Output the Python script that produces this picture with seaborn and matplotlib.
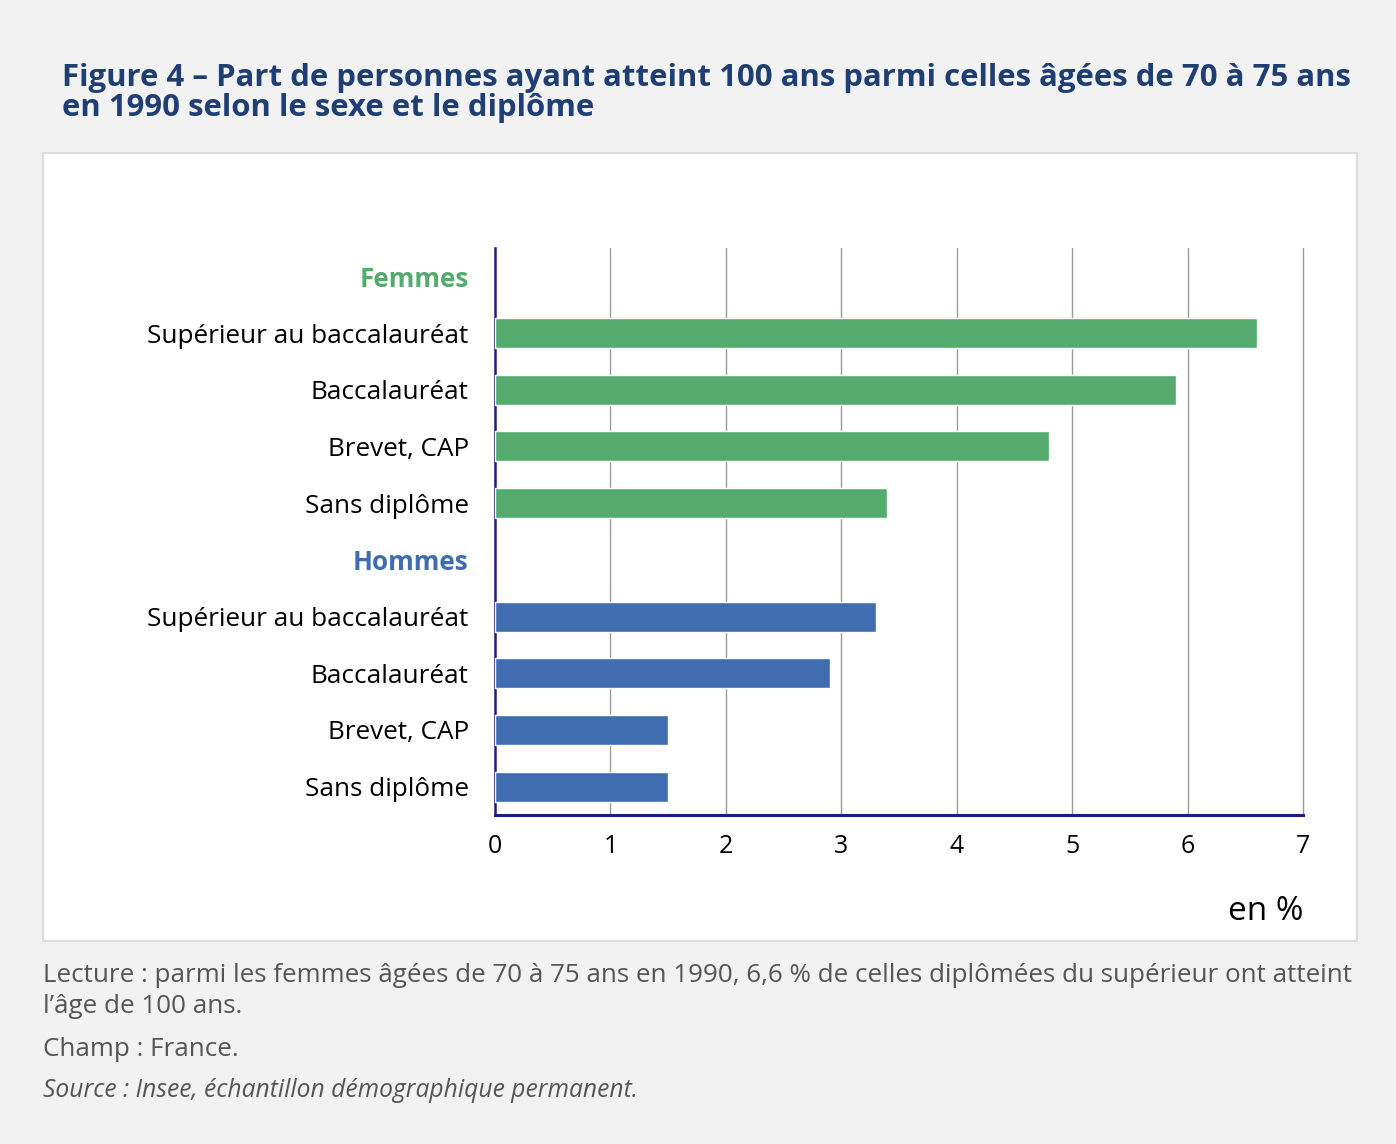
import pandas as pd
import numpy as np
import seaborn as sns
import matplotlib.pyplot as plt
from matplotlib.patches import Rectangle

# Data
groups = ['Femmes', 'Hommes']
diplomes = ['Supérieur au baccalauréat', 'Baccalauréat', 'Brevet, CAP', 'Sans diplôme']
femmes = [6.6, 5.9, 4.8, 3.4]
hommes = [3.3, 2.9, 1.5, 1.5]
xticks = [0, 1, 2, 3, 4, 5, 6, 7]

green = '#55ab6e'
blue = '#3f6db0'
navy = '#1b1f7a'

# Build the table: one row per bar, header rows kept as empty slots
rows = []
for g, vals in zip(groups, [femmes, hommes]):
    for d, v in zip(diplomes, vals):
        rows.append({'key': g + '|' + d, 'sexe': g, 'diplome': d, 'valeur': v})
df = pd.DataFrame(rows)

order = []
labels = []
for g in groups:
    order.append(g)
    labels.append(g)
    for d in diplomes:
        order.append(g + '|' + d)
        labels.append(d)

sns.set_theme(style='white')
plt.rcParams['font.family'] = ['Open Sans', 'DejaVu Sans']

fig = plt.figure(figsize=(13.96, 11.44), dpi=100)
fig.patch.set_facecolor('#f2f2f2')

# White panel behind the chart
fig.patches.append(Rectangle((0.0308, 0.1774), 0.9413, 0.6888, transform=fig.transFigure,
                             facecolor='white', edgecolor='#dcdcdc', linewidth=1.5, zorder=-5))

ax = fig.add_axes([0.3546, 0.2876, 0.5788, 0.4956])
ax.set_facecolor('white')
sns.barplot(data=df, x='valeur', y='key', hue='sexe', order=order,
            palette={'Femmes': green, 'Hommes': blue}, dodge=False, saturation=1,
            width=0.53, orient='h', legend=False, ax=ax, zorder=3)

ax.set_xlim(0, 7)
ax.set_ylim(len(order) - 0.5, -0.5)
ax.set_xticks(xticks)
ax.set_xticklabels([str(t) for t in xticks], fontsize=18, color='black')
ax.set_yticks(range(len(order)))
ax.set_yticklabels(labels, fontsize=18.8, color='black')
ax.tick_params(axis='both', length=0)
ax.tick_params(axis='x', pad=14)
ax.tick_params(axis='y', pad=19)
for lab in ax.get_yticklabels():
    if lab.get_text() == 'Femmes':
        lab.set_color(green)
        lab.set_fontweight('bold')
    elif lab.get_text() == 'Hommes':
        lab.set_color(blue)
        lab.set_fontweight('bold')

for t in xticks[1:]:
    ax.axvline(t, color='#9a9a9a', linewidth=1, zorder=1, clip_on=False)

for s in ['top', 'right']:
    ax.spines[s].set_visible(False)
ax.spines['left'].set_color(navy)
ax.spines['left'].set_linewidth(1.8)
ax.spines['bottom'].set_color(navy)
ax.spines['bottom'].set_linewidth(2.2)
ax.set_xlabel('')
ax.set_ylabel('')

fig.text(0.9334, 0.196, 'en %', fontsize=24, ha='right', va='baseline', color='black')

fig.text(0.0444, 0.945, 'Figure 4 – Part de personnes ayant atteint 100 ans parmi celles âgées de 70 à 75 ans\n'
         'en 1990 selon le sexe et le diplôme', fontsize=22.4, fontweight='bold', color='#1f3f74',
         ha='left', va='top', linespacing=1.02)

grey = '#555555'
fig.text(0.0308, 0.1416, 'Lecture : parmi les femmes âgées de 70 à 75 ans en 1990, 6,6 % de celles diplômées du supérieur ont atteint',
         fontsize=18.7, color=grey, ha='left', va='baseline')
fig.text(0.0308, 0.1145, 'l’âge de 100 ans.', fontsize=18.7, color=grey, ha='left', va='baseline')
fig.text(0.0308, 0.0769, 'Champ : France.', fontsize=18.7, color=grey, ha='left', va='baseline')
fig.text(0.0308, 0.041, 'Source : Insee, échantillon démographique permanent.', fontsize=17.7,
         color=grey, style='italic', ha='left', va='baseline')

fig.savefig('out.png', dpi=100, facecolor=fig.get_facecolor())
